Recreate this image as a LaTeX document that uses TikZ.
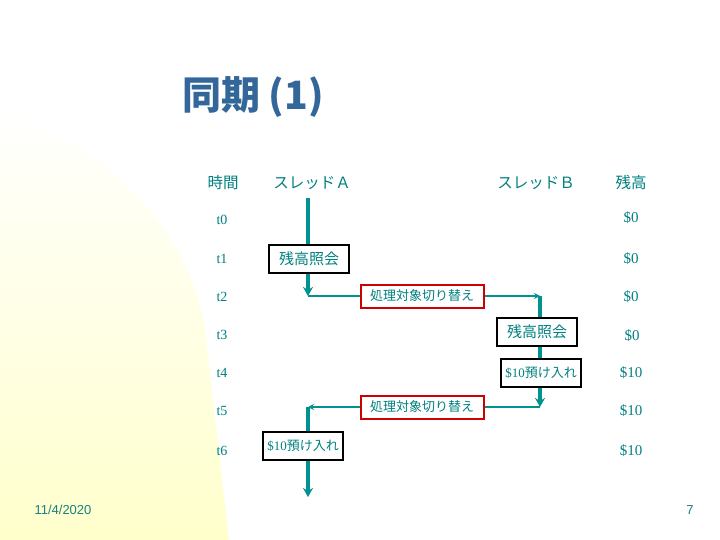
\documentclass[tikz,border=0pt]{standalone}
\usepackage{fontspec}
\setmainfont{Liberation Serif}
\setsansfont{Liberation Sans}
\newfontfamily\jp{Noto Sans CJK JP}
\usetikzlibrary{arrows.meta,positioning,calc}
\definecolor{tealtx}{RGB}{0,128,128}
\definecolor{tealln}{RGB}{0,145,145}
\definecolor{ttlblue}{RGB}{51,102,153}
\definecolor{redbox}{RGB}{204,0,0}
\definecolor{bgyel}{RGB}{255,255,204}

\begin{document}
\begin{tikzpicture}[x=1pt,y=-1pt,
  every node/.style={text=tealtx,inner sep=0pt},
  hdr/.style={font=\jp\fontsize{15.5}{15.5}\selectfont},
  tm/.style={font=\fontsize{14}{14}\selectfont},
  bal/.style={font=\fontsize{15}{15}\selectfont},
  op/.style={draw=black,line width=2pt,fill=white,inner xsep=4pt,
    minimum width=80pt,minimum height=28pt,font=\jp\fontsize{15}{15}\selectfont},
  dep/.style={op,font=\jp\fontsize{13}{13}\selectfont},
  sw/.style={draw=redbox,line width=2pt,fill=white,minimum width=123pt,
    minimum height=23pt,font=\jp\fontsize{13}{13}\selectfont},
  thr/.style={draw=tealln,line width=3.6pt},
  hop/.style={draw=tealln,line width=2.2pt},
  tip/.style={-{Stealth[length=9pt,width=10pt]}},
  stip/.style={-{Stealth[length=6pt,width=6pt]}}
]
\useasboundingbox (0,0) rectangle (720,540);
\fill[white] (0,0) rectangle (720,540);
\shade[top color=white,bottom color=bgyel,middle color=bgyel!50]
  (0,105) .. controls (110,150) and (190,230) .. (205,330) -- (229,540) -- (0,540) -- cycle;

% title and column heads
\node[font=\jp\bfseries\fontsize{39}{39}\selectfont,text=ttlblue] (title) at (253,97) {同期 (1)};
\node[hdr] (hTime) at (223,183) {時間};
\node[hdr] (hA) at (312,183) {スレッドＡ};
\node[hdr] (hB) at (536,183) {スレッドＢ};
\node[hdr] (hBal) at (631,183) {残高};

% time steps
\node[tm] (t0) at (222,220) {t0};
\node[tm] (t1) at (222,259) {t1};
\node[tm] (t2) at (222,297) {t2};
\node[tm] (t3) at (222,335) {t3};
\node[tm] (t4) at (222,373) {t4};
\node[tm] (t5) at (222,411) {t5};
\node[tm] (t6) at (222,451) {t6};

% balance
\node[bal] (m0) at (631,218) {\$0};
\node[bal] (m1) at (631,259) {\$0};
\node[bal] (m2) at (631,297) {\$0};
\node[bal] (m3) at (632,336) {\$0};
\node[bal] (m4) at (631,373) {\$10};
\node[bal] (m5) at (631,411) {\$10};
\node[bal] (m6) at (631,451) {\$10};

% operations
\node[op] (qA) at (309,259) {残高照会};
\node[sw] (sw1) at (422,296) {処理対象切り替え};
\node[op] (qB) at (537,332) {残高照会};
\node[dep] (dB) at (541,373) {{\rmfamily\$10}預け入れ};
\node[sw] (sw2) at (422,407) {処理対象切り替え};
\node[dep] (dA) at (303,446) {{\rmfamily\$10}預け入れ};

\coordinate (a0) at (308,198);
\coordinate (a2) at (308,296);
\coordinate (b2) at (540,296);
\coordinate (b5) at (540,407);
\coordinate (a5) at (308,407);
\coordinate (a7) at (308,497);

% thread A, then B, then A again
\draw[thr] (a0) -- (a0|-qA.north);
\draw[thr,tip] (a2|-qA.south) -- (a2);
\draw[hop] (a2) -- (sw1);
\draw[hop,stip] (sw1) -- (b2);
\draw[thr] (b2) -- (b2|-qB.north);
\draw[thr] (b2|-qB.south) -- (b2|-dB.north);
\draw[thr,tip] (b2|-dB.south) -- (b5);
\draw[hop] (b5) -- (sw2);
\draw[hop,stip] (sw2) -- (a5);
\draw[thr] (a5) -- (a5|-dA.north);
\draw[thr,tip] (a5|-dA.south) -- (a7);

% footer
\node[font=\sffamily\fontsize{13}{13}\selectfont,text=tealtx!80!gray] (date) at (63,510) {11/4/2020};
\node[font=\sffamily\fontsize{13}{13}\selectfont,text=tealtx!80!gray] (page) at (690,510) {7};
\end{tikzpicture}
\end{document}
